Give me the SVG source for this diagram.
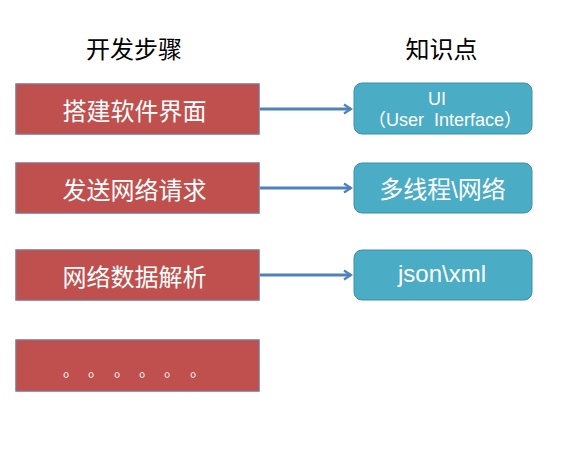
<svg xmlns="http://www.w3.org/2000/svg" width="568" height="459" viewBox="0 0 568 459">
<defs>
<style>
.hdr{font-family:"Liberation Sans","Noto Sans CJK SC",sans-serif;font-size:24px;fill:#000;text-anchor:middle}
.step{fill:#C0504D;stroke:#8C6D80;stroke-width:1.5}
.kp{fill:#4BACC6;stroke:#3E8FA8;stroke-width:1}
.t{font-family:"Liberation Sans","Noto Sans CJK SC",sans-serif;fill:#fff;text-anchor:middle}
.dot{font-family:"Noto Sans CJK SC",sans-serif;fill:#fff;font-size:16px}
.conn{stroke:#4F81BD;stroke-width:3;fill:none;marker-end:url(#ah)}
</style>
<marker id="ah" markerWidth="10" markerHeight="12" refX="8" refY="6" orient="auto" markerUnits="userSpaceOnUse">
<path d="M1,1.5 L8,6 L1,10.5" fill="none" stroke="#4F81BD" stroke-width="2.2"/>
</marker>
</defs>
<rect width="568" height="459" fill="#fff"/>
<g id="header-steps"><text class="hdr" x="134" y="58">开发步骤</text></g>
<g id="header-knowledge"><text class="hdr" x="441.5" y="58">知识点</text></g>

<g id="step1"><rect class="step" x="16" y="84" width="243" height="50"/><text class="t" x="134.5" y="120" font-size="24">搭建软件界面</text></g>
<g id="step2"><rect class="step" x="16" y="163" width="243" height="50"/><text class="t" x="134.5" y="199" font-size="24">发送网络请求</text></g>
<g id="step3"><rect class="step" x="16" y="250" width="243" height="50"/><text class="t" x="134.5" y="286" font-size="24">网络数据解析</text></g>
<g id="step4"><rect class="step" x="16" y="340" width="243" height="51"/>
<text class="dot" x="63" y="376">。</text><text class="dot" x="88" y="376">。</text><text class="dot" x="114" y="376">。</text><text class="dot" x="139" y="376">。</text><text class="dot" x="164" y="376">。</text><text class="dot" x="190" y="376">。</text>
</g>

<g id="kp1"><rect class="kp" x="354" y="83" width="178" height="51" rx="8"/><text class="t" x="437" y="105" font-size="18">UI</text><text class="t" x="445" y="126" font-size="18" xml:space="preserve">（User  Interface）</text></g>
<g id="kp2"><rect class="kp" x="354" y="163" width="178" height="50" rx="8"/><text class="t" x="442.5" y="198" font-size="24">多线程\网络</text></g>
<g id="kp3"><rect class="kp" x="354" y="250" width="178" height="50" rx="8"/><text class="t" x="442" y="282" font-size="24">json\xml</text></g>

<g id="connectors">
<line class="conn" x1="260" y1="109" x2="351" y2="109"/>
<line class="conn" x1="260" y1="188" x2="351" y2="188"/>
<line class="conn" x1="260" y1="275" x2="351" y2="275"/>
</g>
</svg>
